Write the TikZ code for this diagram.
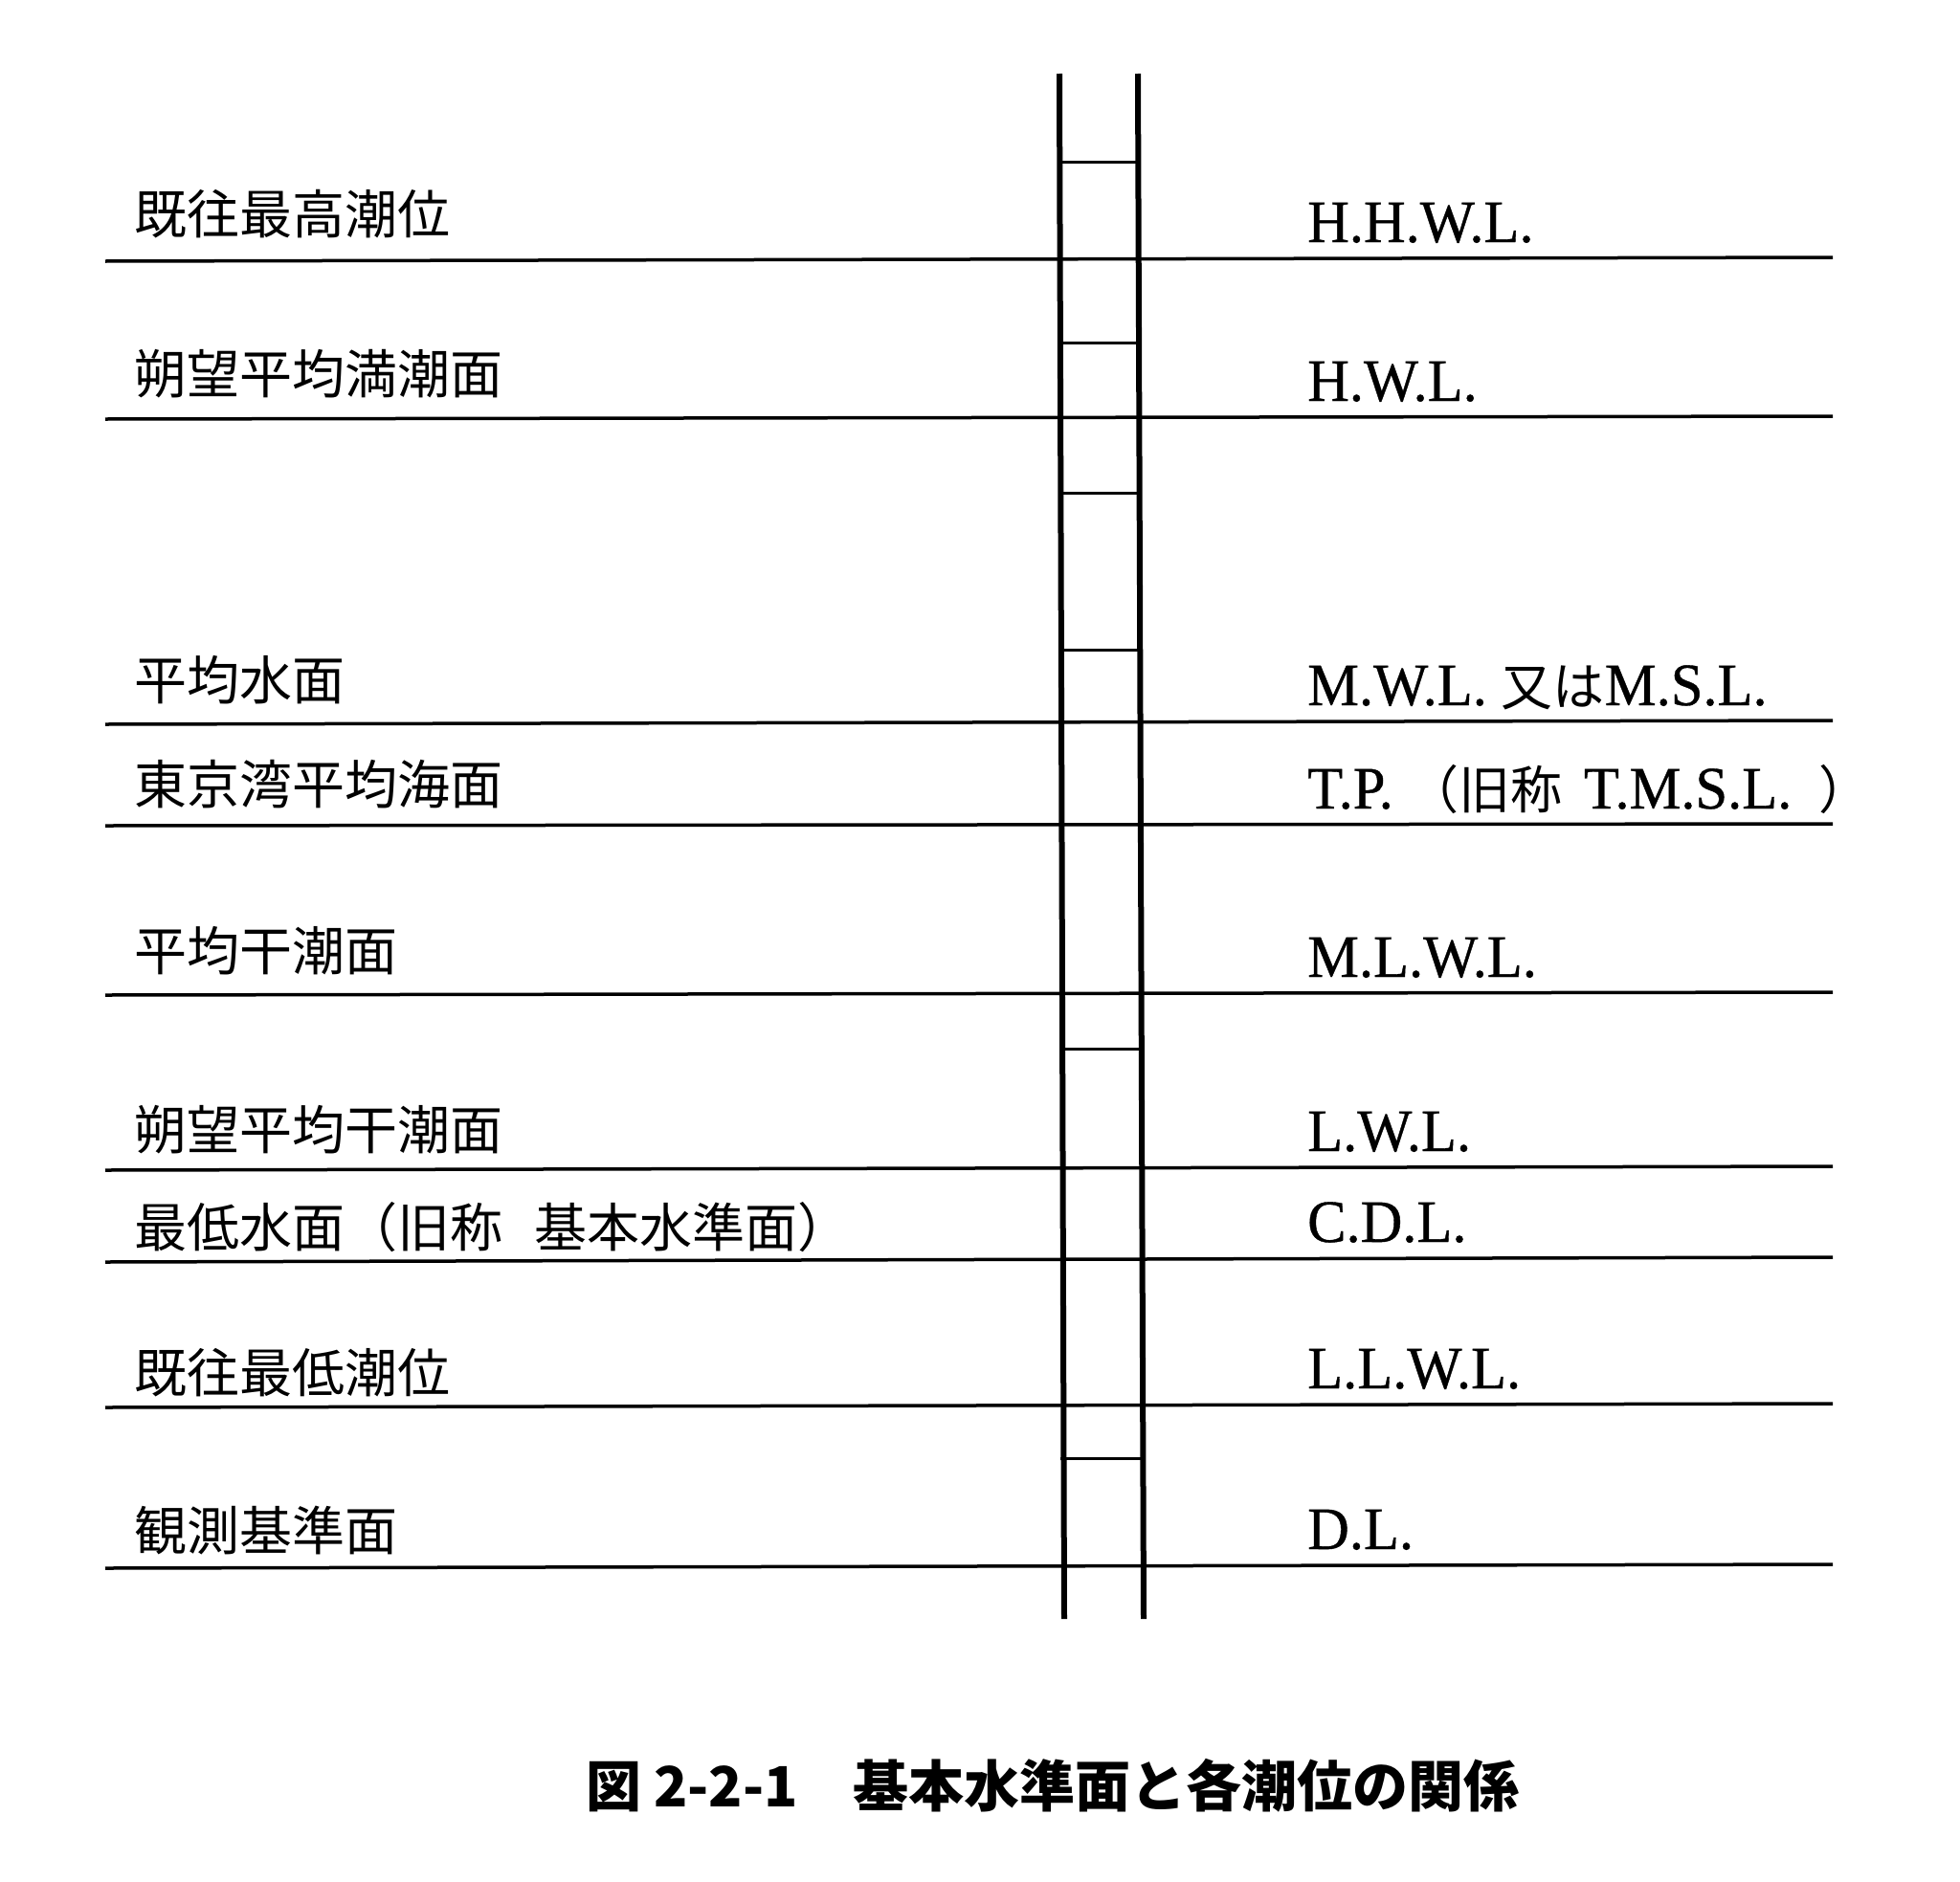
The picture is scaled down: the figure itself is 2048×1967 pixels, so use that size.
\documentclass[tikz,border=0pt]{standalone}
\usepackage{fontspec}
\setmainfont{Liberation Serif}[FakeStretch=0.96,FakeBold=0.6]
\newfontfamily\jp{Noto Sans CJK JP}
\newcommand\jpr[1]{{\jp\fontsize{54}{60}\selectfont #1}}
\tikzset{
  lvl/.style={line width=3.5pt},
  post/.style={line width=6pt},
  rung/.style={line width=3pt},
  jl/.style={anchor=west, inner sep=0pt, font=\jp\fontsize{55}{60}\selectfont},
  el/.style={anchor=base west, inner sep=0pt, font=\fontsize{63}{70}\selectfont},
  captext/.style={inner sep=0pt, font=\jp\bfseries\fontsize{58}{70}\selectfont}
}
\begin{document}
\begin{tikzpicture}[x=1pt,y=-1pt]
\useasboundingbox (0,0) rectangle (2048,1967);
\fill[white] (0,0) rectangle (2048,1967);
% level lines
\foreach \l/\r in {273/269,438/435,757/753,863/861,1040/1037,1223/1219,1319/1314,1471/1467,1639/1635}
  \draw[lvl] (110,\l) -- (1915,\r);
% ladder
\draw[post] (1107,77) -- (1112,1692);
\draw[post] (1189,77) -- (1195,1692);
\foreach \y in {169,358,515,679,1096,1524}
  \draw[rung] (1108,\y) -- (1192,\y);
% left labels
\node[jl] (l1) at (140,224) {既往最高潮位};
\node[jl] (l2) at (140,391) {朔望平均満潮面};
\node[jl] (l3) at (140,711) {平均水面};
\node[jl] (l4) at (140,820) {東京湾平均海面};
\node[jl] (l5) at (140,994) {平均干潮面};
\node[jl] (l6) at (140,1181) {朔望平均干潮面};
\node[jl] (l7) at (140,1283) {最低水面（旧称\hspace{0.6em}基本水準面）};
\node[jl] (l8) at (140,1435) {既往最低潮位};
\node[jl] (l9) at (140,1600) {観測基準面};
% right labels
\node[el] (r1) at (1366,253) {H.H.W.L.};
\node[el] (r2) at (1366,419) {H.W.L.};
\node[el] (r3) at (1366,737) {M.W.L. \jpr{又は}M.S.L.};
\node[el] (r4) at (1366,845) {T.P. \jpr{（旧称}\hspace{0.35em}T.M.S.L.\hspace{0.45em}\jpr{）}};
\node[el] (r5) at (1366,1021) {M.L.W.L.};
\node[el] (r6) at (1366,1203) {L.W.L.};
\node[el] (r7) at (1366,1298) {C.D.L.};
\node[el] (r8) at (1366,1451) {L.L.W.L.};
\node[el] (r9) at (1366,1619) {D.L.};
% caption
\node[captext] (caption) at (1100,1866) {図 2-2-1　基本水準面と各潮位の関係};
\end{tikzpicture}
\end{document}
